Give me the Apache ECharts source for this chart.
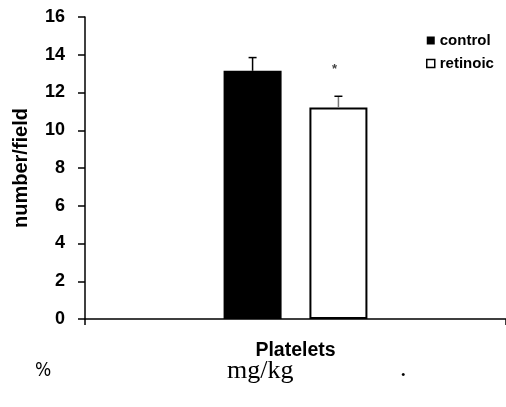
<!DOCTYPE html>
<html>
<head>
<meta charset="utf-8">
<script src="https://cdn.jsdelivr.net/npm/echarts@6/dist/echarts.min.js"></script>
<style>html,body{margin:0;padding:0;background:#fff;}#c{width:506px;height:407px;}</style>
</head>
<body>
<div id="c"></div>
<script>
var categories = ['Platelets'];
var seriesNames = ['control', 'retinoic'];
var controlValues = [13.15];
var retinoicValues = [11.2];
var controlErrors = [0.7];
var retinoicErrors = [0.6];
var significance = ['', '*'];
var yTicks = [0, 2, 4, 6, 8, 10, 12, 14, 16];
var footnotes = ['%', 'mg/kg', '.'];

var BAR_W = 58, BAR_GAP = 0.48;
var OFFSET = (BAR_W * (1 + BAR_GAP)) / 2;
var SANS = "'Liberation Sans', Arial, sans-serif";

var chart = echarts.init(document.getElementById('c'), null, {renderer: 'canvas'});

function errorSeries(values, errors, dir, stemColor, mark) {
  return {
    type: 'custom',
    silent: true,
    z: 5,
    data: values.map(function (v, i) { return [i, v, errors[i]]; }),
    renderItem: function (params, api) {
      var base = api.coord([api.value(0), api.value(1)]);
      var top = api.coord([api.value(0), api.value(1) + api.value(2)]);
      var x = base[0] + dir * OFFSET;
      var children = [
        {type: 'line', shape: {x1: x, y1: base[1], x2: x, y2: top[1]}, style: {stroke: stemColor, lineWidth: 1.5}},
        {type: 'line', shape: {x1: x - 4, y1: top[1], x2: x + 4, y2: top[1]}, style: {stroke: '#000', lineWidth: 1.5}}
      ];
      if (mark) {
        var sp = api.coord([api.value(0), 13.3]);
        children.push({type: 'text', style: {text: mark, x: x - 4, y: sp[1] + 1, align: 'center', verticalAlign: 'middle', font: 'bold 13px ' + SANS, fill: '#444'}});
      }
      return {type: 'group', children: children};
    }
  };
}

chart.setOption({
  animation: false,
  backgroundColor: '#fff',
  grid: {left: 85, width: 427, top: 17, bottom: 88, containLabel: false},
  legend: {
    orient: 'vertical', left: 421, top: 28, itemWidth: 8, itemHeight: 8, itemGap: 8,
    textStyle: {fontFamily: SANS, fontWeight: 'bold', fontSize: 15, color: '#000'},
    data: [
      {name: 'control', icon: 'rect', itemStyle: {color: '#000', borderWidth: 0}},
      {name: 'retinoic', icon: 'rect', itemStyle: {color: '#fff', borderColor: '#000', borderWidth: 1.5}}
    ]
  },
  xAxis: {
    type: 'category', data: categories,
    axisLine: {lineStyle: {color: '#000', width: 1.5}},
    axisTick: {show: true, length: 6, lineStyle: {color: '#000', width: 1.5}},
    axisLabel: {margin: 22, fontFamily: SANS, fontWeight: 'bold', fontSize: 19.5, color: '#000'}
  },
  yAxis: {
    type: 'value', min: 0, max: 16, interval: 2,
    name: 'number/field', nameLocation: 'middle', nameGap: 54,
    nameTextStyle: {fontFamily: SANS, fontWeight: 'bold', fontSize: 20, color: '#000'},
    axisLine: {show: true, lineStyle: {color: '#000', width: 1.5}},
    axisTick: {show: true, length: 7, lineStyle: {color: '#000', width: 1.5}},
    splitLine: {show: false},
    axisLabel: {margin: 20, fontFamily: SANS, fontWeight: 'bold', fontSize: 18, color: '#000',
      customValues: yTicks}
  },
  series: [
    {name: seriesNames[0], type: 'bar', data: controlValues, barWidth: BAR_W, barGap: (BAR_GAP * 100) + '%',
      itemStyle: {color: '#000'}},
    {name: seriesNames[1], type: 'bar', data: retinoicValues, barWidth: BAR_W,
      itemStyle: {color: '#fff', borderColor: '#000', borderWidth: 2}},
    errorSeries(controlValues, controlErrors, -1, '#000', significance[0]),
    errorSeries(retinoicValues, retinoicErrors, 1, '#777', significance[1])
  ],
  graphic: [
    {type: 'text', left: 35, top: 362, style: {text: footnotes[0], font: "19px 'Liberation Sans Narrow', 'DejaVu Sans Condensed', sans-serif", fill: '#000'}},
    {type: 'text', left: 227, top: 358, style: {text: footnotes[1], font: "26px 'Liberation Serif', 'Times New Roman', serif", fill: '#000'}},
    {type: 'text', left: 400, top: 356, style: {text: footnotes[2], font: "26px 'Liberation Serif', 'Times New Roman', serif", fill: '#000'}}
  ]
});
</script>
</body>
</html>
